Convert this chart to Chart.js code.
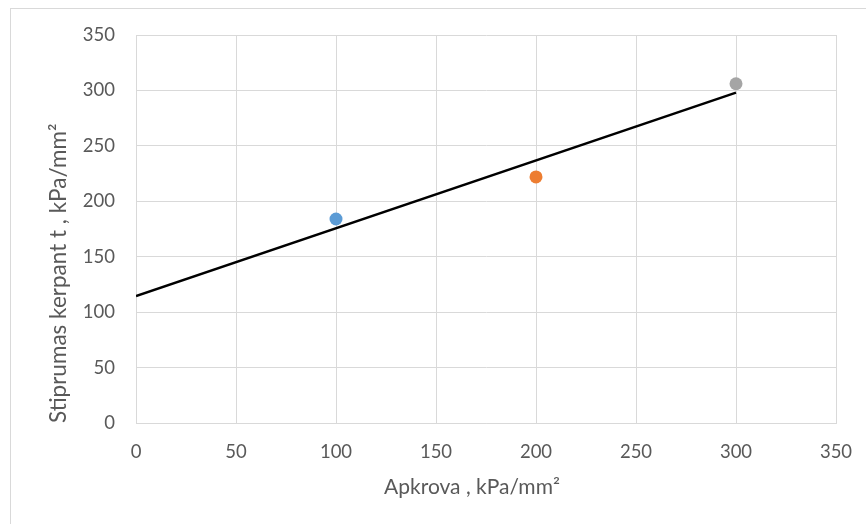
<!DOCTYPE html>
<html>
<head>
<meta charset="utf-8">
<script src="https://cdn.jsdelivr.net/npm/chart.js@4/dist/chart.umd.min.js"></script>
<style>
  html, body { margin: 0; padding: 0; background: #fff; overflow: hidden; }
  #wrap { position: relative; width: 866px; height: 524px; }
  #frame { position: absolute; left: 10px; top: 8px; width: 900px; height: 560px;
           border: 1px solid #d9d9d9; box-sizing: border-box; pointer-events: none; }
  canvas { position: absolute; left: 0; top: 0; }
</style>
</head>
<body>
<div id="wrap">
  <div id="frame"></div>
  <canvas id="c" width="866" height="524"></canvas>
</div>
<script>
// Measured points (load vs. shear strength)
const loadX = [100, 200, 300];
const strengthY = [184, 222, 306];
const pointColors = ['#5B9BD5', '#ED7D31', '#A5A5A5'];

// Linear trend line end points
const trendX = [0, 300];
const trendY = [114.5, 298];

// Axis ticks
const xTicks = [0, 50, 100, 150, 200, 250, 300, 350];
const yTicks = [0, 50, 100, 150, 200, 250, 300, 350];

const xTitle = 'Apkrova , kPa/mm²';
const yTitle = 'Stiprumas kerpant t , kPa/mm²';

const textColor = '#595959';
const gridColor = '#d9d9d9';
const fontFamily = 'Lato, "Open Sans", sans-serif';

const pointSets = loadX.map((x, i) => ({
  type: 'scatter',
  data: [{ x: x, y: strengthY[i] }],
  backgroundColor: pointColors[i],
  borderColor: pointColors[i],
  pointRadius: 6.5,
  pointHoverRadius: 6.5,
  borderWidth: 0
}));

// Horizontal axis title, placed slightly left of the plot centre
const xTitlePlugin = {
  id: 'xTitle',
  afterDraw(chart) {
    const ctx = chart.ctx;
    const area = chart.chartArea;
    ctx.save();
    ctx.font = '21px ' + fontFamily;
    ctx.fillStyle = textColor;
    ctx.textAlign = 'center';
    ctx.textBaseline = 'middle';
    ctx.fillText(xTitle, (area.left + area.right) / 2 - 14, area.bottom + 64);
    ctx.restore();
  }
};

new Chart(document.getElementById('c'), {
  type: 'scatter',
  data: {
    datasets: [
      {
        type: 'line',
        data: trendX.map((x, i) => ({ x: x, y: trendY[i] })),
        borderColor: '#000',
        borderWidth: 2.5,
        pointRadius: 0,
        fill: false
      },
      ...pointSets
    ]
  },
  options: {
    responsive: false,
    animation: false,
    devicePixelRatio: 1,
    layout: { padding: { left: 41, top: 35, right: 30, bottom: 20 } },
    plugins: { legend: { display: false }, tooltip: { enabled: false } },
    scales: {
      x: {
        type: 'linear',
        min: 0, max: 350,
        afterBuildTicks: s => { s.ticks = xTicks.map(v => ({ value: v })); },
        afterFit: s => { s.height = 81; s.paddingRight = 0; s.paddingLeft = 0; },
        grid: { color: gridColor, lineWidth: 1, drawTicks: false },
        border: { color: gridColor, width: 1 },
        ticks: { color: textColor, padding: 18, font: { family: fontFamily, size: 18.5 }, maxRotation: 0 },
        title: { display: false }
      },
      y: {
        type: 'linear',
        min: 0, max: 350,
        afterBuildTicks: s => { s.ticks = yTicks.map(v => ({ value: v })); },
        afterFit: s => { s.width = 95; },
        grid: { color: gridColor, lineWidth: 1, drawTicks: false },
        border: { color: gridColor, width: 1 },
        ticks: { color: textColor, padding: 21, font: { family: fontFamily, size: 18.5 } },
        title: { display: true, text: yTitle, color: textColor, padding: 4, align: 'start',
                 font: { family: fontFamily, size: 22.5 } }
      }
    }
  },
  plugins: [xTitlePlugin]
});
</script>
</body>
</html>
